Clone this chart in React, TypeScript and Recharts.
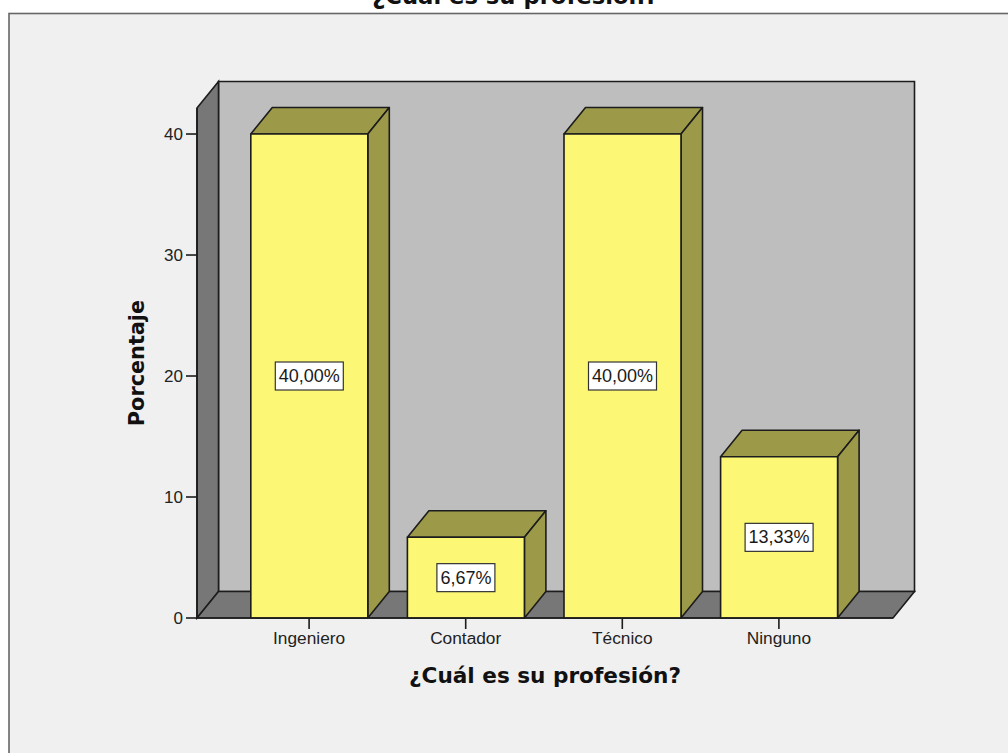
import React from 'react';
import { BarChart, Bar, XAxis, YAxis, LabelList } from 'recharts';

const categories = ['Ingeniero', 'Contador', 'Técnico', 'Ninguno'];
const percentages = [40, 6.67, 40, 13.33];
const yTicks = [0, 10, 20, 30, 40];
const chartTitle = '¿Cuál es su profesión?';
const yTitle = 'Porcentaje';

const rows = categories.map((name, i) => ({ name, value: percentages[i] }));

const W = 1008;
const H = 753;
const LINE = '#1c1c1c';
const DX = 21.5;
const DY = -26.5;
const PLOT = { left: 197, right: 893, top: 108, bottom: 618 };

const BarBox = (p: any) => {
  const { x, y, width, height } = p;
  const r = x + width;
  const b = y + height;
  const common = { stroke: LINE, strokeWidth: 1.6, strokeLinejoin: 'round' as const };
  return (
    <g>
      <polygon points={`${x},${y} ${x + DX},${y + DY} ${r + DX},${y + DY} ${r},${y}`} fill="#9C9A48" {...common} />
      <polygon points={`${r},${y} ${r + DX},${y + DY} ${r + DX},${b + DY} ${r},${b}`} fill="#9C9A48" {...common} />
      <rect x={x} y={y} width={width} height={height} fill="#FCF876" {...common} />
    </g>
  );
};

const ValueTag = (p: any) => {
  const { x, y, width, height, value } = p;
  const cx = x + width / 2;
  const cy = y + height / 2;
  const text = `${Number(value).toFixed(2).replace('.', ',')}%`;
  const w = value >= 10 ? 68 : 58;
  return (
    <g>
      <rect x={cx - w / 2} y={cy - 14} width={w} height={28} fill="#ffffff" stroke="#333333" strokeWidth={1.2} />
      <text x={cx} y={cy + 6} textAnchor="middle" fontSize={18} fill="#1a1a1a" fontFamily="Liberation Sans">{text}</text>
    </g>
  );
};

const Backdrop = () => {
  const { left: l, right: r, top: t, bottom: b } = PLOT;
  return (
    <svg width={W} height={H} style={{ position: 'absolute', left: 0, top: 0 }}>
      <rect x={9} y={13.5} width={W} height={H} fill="#F0F0F0" stroke="#666666" strokeWidth={1.6} />
      <text x={515} y={4} textAnchor="middle" fontSize={22.7} fontWeight="bold" fill="#111" fontFamily="DejaVu Sans">{chartTitle}</text>
      <polygon points={`${l + DX},${t + DY} ${r + DX},${t + DY} ${r + DX},${b + DY} ${l + DX},${b + DY}`} fill="#BEBEBE" stroke={LINE} strokeWidth={1.6} />
      <polygon points={`${l},${t} ${l + DX},${t + DY} ${l + DX},${b + DY} ${l},${b}`} fill="#777777" stroke={LINE} strokeWidth={1.6} />
      <polygon points={`${l},${b} ${l + DX},${b + DY} ${r + DX},${b + DY} ${r},${b}`} fill="#777777" stroke={LINE} strokeWidth={1.6} />
    </svg>
  );
};

export default function App() {
  return (
    <div style={{ position: 'absolute', left: 0, top: 0, width: W, height: H, overflow: 'hidden' }}>
      <Backdrop />
      <div style={{ position: 'absolute', left: 0, top: 0 }}>
        <BarChart
          width={W}
          height={H}
          data={rows}
          barSize={117}
          margin={{ left: 0, top: PLOT.top, right: W - PLOT.right, bottom: 0 }}
        >
          <YAxis
            type="number"
            width={PLOT.left}
            domain={[0, 42.15]}
            ticks={yTicks}
            tickSize={11}
            tickMargin={3}
            tick={{ fontSize: 17, fill: '#222', fontFamily: 'Liberation Sans' }}
            axisLine={{ stroke: LINE, strokeWidth: 1.6 }}
            tickLine={{ stroke: LINE, strokeWidth: 1.6 }}
            label={{
              value: yTitle,
              angle: -90,
              position: 'insideLeft',
              offset: 137,
              textAnchor: 'middle',
              fontSize: 20.8,
              fontWeight: 'bold',
              fill: '#111',
              fontFamily: 'DejaVu Sans',
            }}
          />
          <XAxis
            dataKey="name"
            height={H - PLOT.bottom}
            padding={{ left: 33.8, right: 35.8 }}
            tickSize={11}
            tickMargin={3}
            interval={0}
            tick={{ fontSize: 17.3, fill: '#222', fontFamily: 'Liberation Sans' }}
            axisLine={{ stroke: LINE, strokeWidth: 1.6 }}
            tickLine={{ stroke: LINE, strokeWidth: 1.6 }}
            label={{
              value: chartTitle,
              position: 'insideTop',
              offset: 50,
              fontSize: 21.6,
              fontWeight: 'bold',
              fill: '#111',
              fontFamily: 'DejaVu Sans',
            }}
          />
          <Bar dataKey="value" isAnimationActive={false} shape={BarBox}>
            <LabelList dataKey="value" content={ValueTag} />
          </Bar>
        </BarChart>
      </div>
    </div>
  );
}
